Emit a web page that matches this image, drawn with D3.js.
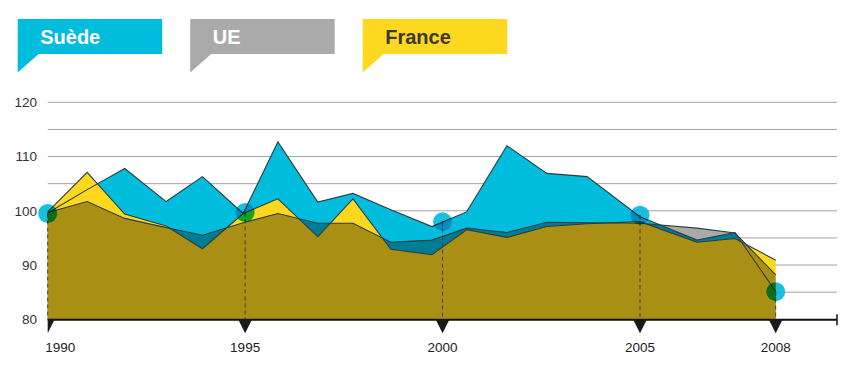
<!DOCTYPE html>
<html>
<head>
<meta charset="utf-8">
<script src="https://cdn.jsdelivr.net/npm/d3@7"></script>
<style>
  body { margin: 0; background: #fff; }
  svg { display: block; font-family: "Liberation Sans", Arial, sans-serif; }
</style>
</head>
<body>
<div id="chart"></div>
<script>
// positions of the drawn points, in years (as drawn on the original)
const yearPos = [1990, 1991, 1991.95, 1993, 1993.92, 1994.95, 1995.83, 1996.84, 1997.73, 1998.69,
                 1999.73, 2000.61, 2001.63, 2002.64, 2003.66, 2005, 2006.26, 2007.1, 2008];

const sweden = [99.6, 103.9, 107.8, 101.7, 106.3, 99.5, 112.7, 101.6, 103.2, 100.2,
                97.1, 99.8, 112.0, 106.9, 106.3, 98.9, 94.6, 96.0, 85.1];
const ue     = [99.7, 101.7, 98.6, 96.9, 95.5, 97.8, 99.5, 97.7, 97.7, 94.2,
                94.6, 96.8, 96.0, 97.9, 97.8, 97.7, 96.8, 95.9, 88.2];
const france = [99.8, 107.1, 99.4, 97.2, 93.0, 99.5, 102.2, 95.2, 102.2, 92.9,
                91.9, 96.5, 95.1, 97.1, 97.6, 98.0, 94.2, 94.9, 90.9];

// highlighted points (circles) on the Sweden curve
const markYears  = [1990, 1995, 2000, 2005, 2008];
const markValues = [99.5, 99.7, 98.0, 99.2, 85.1];

const gridValues  = [80, 85, 90, 95, 100, 105, 110, 115, 120];
const yTickLabels = [80, 90, 100, 110, 120];

const legendNames  = ["Suède", "UE", "France"];
const legendColors = ["#00bcdd", "#aaaaaa", "#fdd81f"];
const legendText   = ["#ffffff", "#ffffff", "#3a3933"];

const width = 861, height = 370;
const svg = d3.select("#chart").append("svg")
    .attr("width", width).attr("height", height);

const x = d3.scaleLinear().domain([1990, 2005, 2008]).range([47.7, 640, 775.7]);
const y = d3.scaleLinear().domain([80, 120]).range([319.3, 102.3]);
const axisEnd = 837;

// Legend flags
const legend = svg.append("g").selectAll("g")
    .data(legendNames).enter().append("g")
    .attr("transform", (d, i) => `translate(${17.7 + i * 172.5},19)`);
legend.append("rect")
    .attr("width", 144.5).attr("height", 35)
    .attr("fill", (d, i) => legendColors[i]);
legend.append("path")
    .attr("d", "M0,34.5L21.6,34.5L0,53.5Z")
    .attr("fill", (d, i) => legendColors[i]);
legend.append("text")
    .attr("x", 22.5).attr("y", 24.5)
    .attr("font-size", 20).attr("font-weight", "bold")
    .attr("fill", (d, i) => legendText[i])
    .text(d => d);

// Grid lines
svg.append("g").selectAll("line")
    .data(gridValues.filter(v => v !== 80)).enter().append("line")
    .attr("x1", x(1990)).attr("x2", axisEnd)
    .attr("y1", d => y(d)).attr("y2", d => y(d))
    .attr("stroke", "#a3a3a3").attr("stroke-width", 1);

// Y labels
svg.append("g").selectAll("text")
    .data(yTickLabels).enter().append("text")
    .attr("x", 37).attr("y", d => y(d))
    .attr("dy", "0.36em")
    .attr("text-anchor", "end")
    .attr("font-size", 13.5).attr("fill", "#333")
    .text(d => d);

// Areas (isolated group so gray multiply only mixes with the other areas)
const plot = svg.append("g").style("isolation", "isolate");

const area = d3.area()
    .x((d, i) => x(yearPos[i]))
    .y0(y(80))
    .y1(d => y(d));
const line = d3.line()
    .x((d, i) => x(yearPos[i]))
    .y(d => y(d));

plot.append("path").datum(sweden).attr("d", area).attr("fill", "#00bcdd");
plot.append("path").datum(france).attr("d", area).attr("fill", "#fdd81f");
plot.append("path").datum(ue).attr("d", area).attr("fill", "#aaaaaa")
    .style("mix-blend-mode", "multiply");

// Dashed drops from the circles
plot.append("g").selectAll("line")
    .data(markYears).enter().append("line")
    .attr("x1", d => x(d)).attr("x2", d => x(d))
    .attr("y1", (d, i) => y(markValues[i])).attr("y2", y(80))
    .attr("stroke", "#4a4230").attr("stroke-width", 1)
    .attr("stroke-dasharray", "4,3");

// Series outlines
[sweden, france, ue].forEach(s => {
    plot.append("path").datum(s).attr("d", line)
        .attr("fill", "none")
        .attr("stroke", "#2c3d40").attr("stroke-width", 1.1)
        .attr("stroke-linejoin", "miter");
});

// Circles
plot.append("g").selectAll("circle")
    .data(markYears).enter().append("circle")
    .attr("cx", d => x(d)).attr("cy", (d, i) => y(markValues[i]))
    .attr("r", 9.5)
    .attr("fill", "#00b8dc")
    .attr("opacity", 0.9)
    .style("mix-blend-mode", "multiply");

// X axis
const xAxisG = svg.append("g");
xAxisG.append("line")
    .attr("x1", x(1990)).attr("x2", axisEnd)
    .attr("y1", y(80) + 0.5).attr("y2", y(80) + 0.5)
    .attr("stroke", "#111").attr("stroke-width", 2);
xAxisG.append("line")
    .attr("x1", axisEnd).attr("x2", axisEnd)
    .attr("y1", y(80) - 5).attr("y2", y(80) + 6)
    .attr("stroke", "#111").attr("stroke-width", 1.5);

svg.append("clipPath").attr("id", "tickclip")
    .append("rect")
    .attr("x", x(1990)).attr("y", 0).attr("width", width).attr("height", height);

xAxisG.append("g").attr("clip-path", "url(#tickclip)")
    .selectAll("path")
    .data(markYears).enter().append("path")
    .attr("d", d => `M${x(d) - 7},${y(80)}L${x(d) + 7},${y(80)}L${x(d)},${y(80) + 14}Z`)
    .attr("fill", "#1a1a1a");

xAxisG.selectAll("text")
    .data(markYears).enter().append("text")
    .attr("x", d => d === 1990 ? x(d) - 2.5 : x(d))
    .attr("y", 351.5)
    .attr("text-anchor", d => d === 1990 ? "start" : "middle")
    .attr("font-size", 13.5).attr("fill", "#222")
    .text(d => d);
</script>
</body>
</html>
